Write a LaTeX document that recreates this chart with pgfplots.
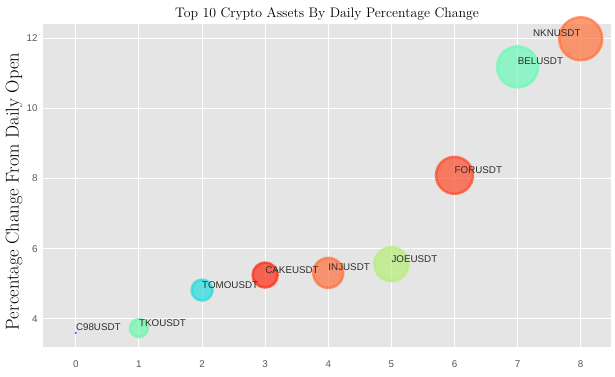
\documentclass[border=0pt]{standalone}
\usepackage{pgfplots}
\pgfplotsset{compat=1.18}
\usepackage{fontspec}
\newfontfamily\lsans{Liberation Sans}
\definecolor{bg}{HTML}{E5E5E5}
\definecolor{tickc}{HTML}{555555}
\definecolor{cC}{HTML}{7F40FF}
\definecolor{cTKO}{HTML}{6CF8AC}
\definecolor{cTOMO}{HTML}{26DCDC}
\definecolor{cCAKE}{HTML}{FF2A14}
\definecolor{cINJ}{HTML}{FF7040}
\definecolor{cJOE}{HTML}{B6EE78}
\definecolor{cFOR}{HTML}{FF4A2A}
\definecolor{cBEL}{HTML}{6CFAB8}
\definecolor{cNKN}{HTML}{FF733C}
\begin{document}
\begin{tikzpicture}
\begin{axis}[
  set layers=standard,
  scale only axis, width=568pt, height=323pt,
  xmin=-0.52, xmax=8.48, ymin=3.20, ymax=12.40,
  axis background/.style={fill=bg},
  axis line style={draw=none},
  grid=major, major grid style={white, line width=1pt},
  xtick={0,1,...,8}, ytick={4,6,8,10,12},
  tick style={draw=none},
  ticklabel style={font=\lsans\fontsize{9.8}{10}\selectfont, text=tickc},
  /pgf/number format/assume math mode=true,
  xticklabel style={yshift=-10pt},
  yticklabel style={xshift=-2pt},
  title={Top 10 Crypto Assets By Daily Percentage Change},
  title style={at={(axis description cs:0.5,1)}, anchor=center, yshift=4pt, font=\fontsize{13.8}{15}\selectfont},
  ylabel={Percentage Change From Daily Open},
  ylabel style={at={(axis description cs:-0.051,0.5)}, anchor=center, xshift=-6pt, font=\fontsize{18.5}{20}\selectfont},
  clip=false,
]
\addplot[only marks, mark=*, mark size=1pt, mark options={fill=cC, draw=cC, fill opacity=0.75, draw opacity=0.75}] coordinates {(0,3.60)};
\addplot[only marks, mark=*, mark size=9pt, mark options={fill=cTKO, draw=cTKO, line width=2.5pt, fill opacity=0.7, draw opacity=0.7}] coordinates {(1,3.74)};
\addplot[only marks, mark=*, mark size=10.5pt, mark options={fill=cTOMO, draw=cTOMO, line width=2.5pt, fill opacity=0.7, draw opacity=0.7}] coordinates {(2,4.82)};
\addplot[only marks, mark=*, mark size=12.5pt, mark options={fill=cCAKE, draw=cCAKE, line width=2.5pt, fill opacity=0.7, draw opacity=0.7}] coordinates {(3,5.25)};
\addplot[only marks, mark=*, mark size=15pt, mark options={fill=cINJ, draw=cINJ, line width=2.5pt, fill opacity=0.7, draw opacity=0.7}] coordinates {(4,5.31)};
\addplot[only marks, mark=*, mark size=17pt, mark options={fill=cJOE, draw=cJOE, line width=2.5pt, fill opacity=0.7, draw opacity=0.7}] coordinates {(5,5.56)};
\addplot[only marks, mark=*, mark size=18.5pt, mark options={fill=cFOR, draw=cFOR, line width=2.5pt, fill opacity=0.7, draw opacity=0.7}] coordinates {(6,8.09)};
\addplot[only marks, mark=*, mark size=20.5pt, mark options={fill=cBEL, draw=cBEL, line width=2.5pt, fill opacity=0.7, draw opacity=0.7}] coordinates {(7,11.18)};
\addplot[only marks, mark=*, mark size=21.5pt, mark options={fill=cNKN, draw=cNKN, line width=2.5pt, fill opacity=0.7, draw opacity=0.7}] coordinates {(8,11.98)};
\begin{pgfonlayer}{axis foreground}
\begin{scope}[every node/.style={font=\lsans\fontsize{9.8}{10}\selectfont, text=black!82, inner sep=0pt}]
\node[anchor=base west, yshift=2pt] at (axis cs:0,3.60) {C98USDT};
\node[anchor=base west, yshift=2pt] at (axis cs:1,3.74) {TKOUSDT};
\node[anchor=base west, yshift=2pt] at (axis cs:2,4.82) {TOMOUSDT};
\node[anchor=base west, yshift=2pt] at (axis cs:3,5.25) {CAKEUSDT};
\node[anchor=base west, yshift=2pt] at (axis cs:4,5.31) {INJUSDT};
\node[anchor=base west, yshift=2pt] at (axis cs:5,5.56) {JOEUSDT};
\node[anchor=base west, yshift=2pt] at (axis cs:6,8.09) {FORUSDT};
\node[anchor=base west, yshift=2pt] at (axis cs:7,11.18) {BELUSDT};
\node[anchor=base east, yshift=2pt] at (axis cs:8,11.98) {NKNUSDT};
\end{scope}
\end{pgfonlayer}
\end{axis}
\pgfresetboundingbox
\path[use as bounding box] (-43pt,-29pt) rectangle (572pt,347pt);
\end{tikzpicture}
\end{document}
